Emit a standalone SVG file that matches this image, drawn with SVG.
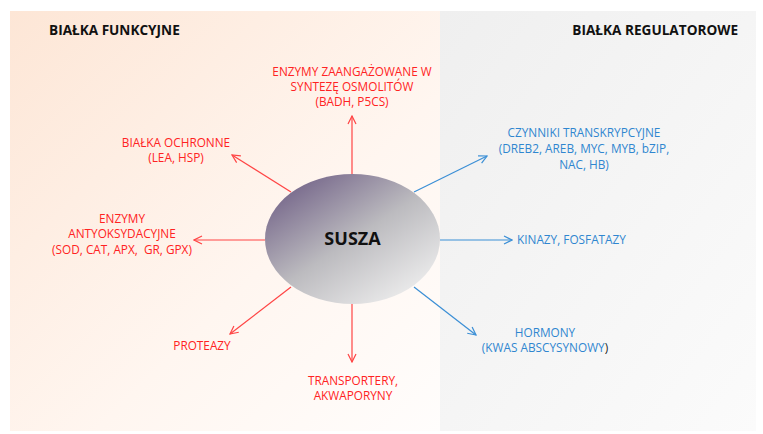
<svg xmlns="http://www.w3.org/2000/svg" width="763" height="434" viewBox="0 0 763 434">
<defs>
<linearGradient id="gl" x1="0" y1="0" x2="1" y2="1">
<stop offset="0" stop-color="#fde6d6"/>
<stop offset="0.6" stop-color="#fff6f0"/>
<stop offset="1" stop-color="#fffdfc"/>
</linearGradient>
<linearGradient id="gr" x1="0" y1="0" x2="1" y2="1">
<stop offset="0" stop-color="#efefef"/>
<stop offset="1" stop-color="#fbfbfb"/>
</linearGradient>
<linearGradient id="ge" x1="0.1" y1="0.1" x2="0.85" y2="0.95">
<stop offset="0" stop-color="#75668a"/>
<stop offset="0.5" stop-color="#bcbbbf"/>
<stop offset="1" stop-color="#eeeeee"/>
</linearGradient>
<marker id="ar" markerWidth="10" markerHeight="10" refX="9" refY="5" orient="auto" markerUnits="userSpaceOnUse">
<path d="M1,1 L9,5 L1,9" fill="none" stroke="#f44" stroke-width="1.2"/>
</marker>
<marker id="ab" markerWidth="10" markerHeight="10" refX="9" refY="5" orient="auto" markerUnits="userSpaceOnUse">
<path d="M1,1 L9,5 L1,9" fill="none" stroke="#3b8fd6" stroke-width="1.2"/>
</marker>
<style>
text{font-family:"Open Sans","Liberation Sans",sans-serif;font-size:11.8px;}
.r{fill:#f22;text-anchor:middle;}
.b{fill:#2f86d0;text-anchor:middle;}
.s{text-anchor:start;}
.h{fill:#111;font-weight:bold;font-size:13.6px;}
.lr{stroke:#f44;stroke-width:1.2;fill:none;marker-end:url(#ar);}
.lb{stroke:#3b8fd6;stroke-width:1.2;fill:none;marker-end:url(#ab);}
</style>
</defs>
<rect width="763" height="434" fill="#fff"/>
<rect x="10" y="11" width="430" height="420" fill="url(#gl)"/>
<rect x="440" y="11" width="316" height="420" fill="url(#gr)"/>
<text class="h" x="49" y="35">BIAŁKA FUNKCYJNE</text>
<text class="h" x="738" y="35" style="text-anchor:end">BIAŁKA REGULATOROWE</text>
<g id="connectors">
<line class="lr" x1="352" y1="174" x2="352" y2="116"/>
<line class="lr" x1="291" y1="192" x2="232" y2="155"/>
<line class="lr" x1="265" y1="240" x2="194" y2="240"/>
<line class="lr" x1="291" y1="287" x2="230" y2="334"/>
<line class="lr" x1="352" y1="304" x2="352" y2="362"/>
<line class="lb" x1="414" y1="192" x2="487" y2="156"/>
<line class="lb" x1="440" y1="240" x2="512" y2="240"/>
<line class="lb" x1="414" y1="287" x2="476" y2="335"/>
</g>
<g id="susza">
<ellipse cx="352.5" cy="239" rx="87.5" ry="65" fill="url(#ge)"/>
<text x="352.5" y="245" text-anchor="middle" style="font-size:18px;font-weight:bold;fill:#111">SUSZA</text>
</g>
<g id="osmolity">
<text class="r" x="352" y="76">ENZYMY ZAANGAŻOWANE W</text>
<text class="r" x="352" y="91">SYNTEZĘ OSMOLITÓW</text>
<text class="r" x="352" y="106">(BADH, P5CS)</text>
</g>
<g id="ochronne">
<text class="r" x="176" y="147">BIAŁKA OCHRONNE</text>
<text class="r" x="176" y="162">(LEA, HSP)</text>
</g>
<g id="antyoks">
<text class="r" x="122" y="223">ENZYMY</text>
<text class="r" x="122" y="238">ANTYOKSYDACYJNE</text>
<text class="r" x="122" y="254">(SOD, CAT, APX,&#160; GR, GPX)</text>
</g>
<g id="proteazy">
<text class="r" x="202" y="350">PROTEAZY</text>
</g>
<g id="transportery">
<text class="r" x="353" y="385">TRANSPORTERY,</text>
<text class="r" x="353" y="400">AKWAPORYNY</text>
</g>
<g id="czynniki">
<text class="b" x="584" y="137">CZYNNIKI TRANSKRYPCYJNE</text>
<text class="b" x="584" y="153">(DREB2, AREB, MYC, MYB, bZIP,</text>
<text class="b" x="584" y="169">NAC, HB)</text>
</g>
<g id="kinazy">
<text class="b s" x="517" y="244">KINAZY, FOSFATAZY</text>
</g>
<g id="hormony">
<text class="b" x="545" y="337">HORMONY</text>
<text class="b" x="545" y="352">(KWAS ABSCYSYNOWY<tspan fill="#222">)</tspan></text>
</g>
</svg>
